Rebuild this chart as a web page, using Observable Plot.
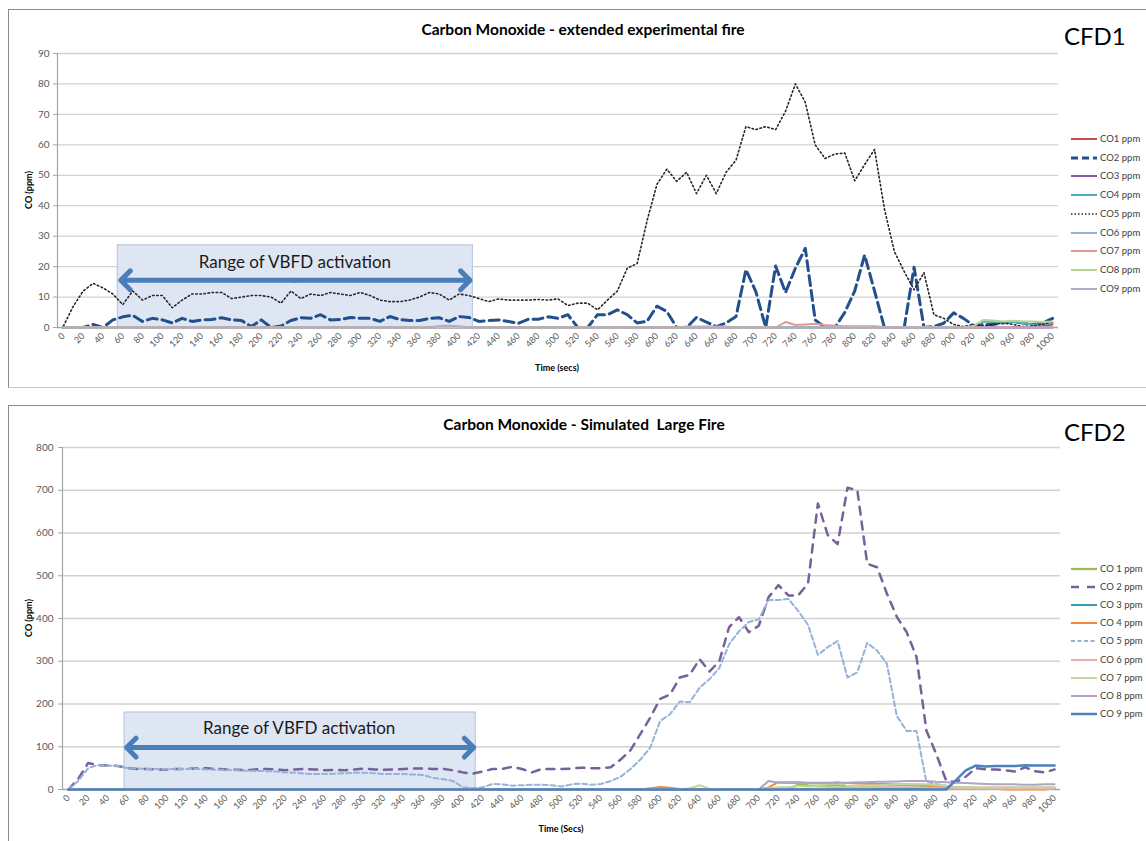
<!DOCTYPE html>
<html><head><meta charset="utf-8">
<script src="https://cdn.jsdelivr.net/npm/d3@7"></script>
<script src="https://cdn.jsdelivr.net/npm/@observablehq/plot@0.6"></script>
<style>
body{margin:0;background:#fff;}
#wrap{position:relative;width:1146px;height:841px;overflow:hidden;font-family:Lato,"Open Sans",sans-serif;background:#fff;}
.frame{position:absolute;border-top:1px solid #8a8a8a;border-left:1px solid #8a8a8a;}
.title{position:absolute;font-weight:bold;font-size:15.5px;color:#000;transform:translate(-50%,-50%);white-space:nowrap;line-height:1;}
.cfd{position:absolute;font-size:24px;color:#000;line-height:1;transform:translateY(-50%);}
.ytitle{position:absolute;font-weight:bold;font-size:9px;color:#000;transform:translate(-50%,-50%) rotate(-90deg);white-space:nowrap;line-height:1;}
.xtitle{position:absolute;font-weight:bold;font-size:9px;color:#000;transform:translate(-50%,-50%);white-space:nowrap;line-height:1;}
.leg{position:absolute;font-size:9.5px;color:#404040;white-space:nowrap;line-height:1;transform:translateY(-50%);}
.plot{position:absolute;left:0;}
</style></head>
<body>
<div id="wrap">
  <div class="frame" style="left:8px;top:9px;width:1200px;height:377px;border-bottom:1px solid #c8c8c8;"></div>
  <div class="frame" style="left:8px;top:405px;width:1200px;height:500px;"></div>
  <div id="p1" class="plot" style="top:0px"></div>
  <div id="p2" class="plot" style="top:405px"></div>
</div>
<script>
// ---------- categories / ticks ----------
const time = d3.range(0, 1001, 10);            // seconds, every 10 s
const xTickLabels = d3.range(0, 1001, 20);
const yTicksTop = [0,10,20,30,40,50,60,70,80,90];
const yTicksBottom = [0,100,200,300,400,500,600,700,800];

// ---------- CFD1 : extended experimental fire ----------
const topNames = ["CO1 ppm","CO2 ppm","CO3 ppm","CO4 ppm","CO5 ppm","CO6 ppm","CO7 ppm","CO8 ppm","CO9 ppm"];
const top_CO1 = [0,0,0,0,0,0,0,0,0,0, 0,0,0,0,0,0,0,0,0,0, 0,0,0,0,0,0,0,0,0,0, 0,0,0,0,0,0,0,0,0,0, 0,0,0,0,0,0,0,0,0,0,
  0,0,0,0,0,0,0,0,0,0, 0,0,0,0,0,0,0,0,0,0, 0,0,0,0,0,0,0,0,0,0, 0,0,0,0,0,0,0,0,0,0, 0,0,0,0,0,0,0,0,0,0.4, 1];
const top_CO2 = [
  0,0,0,1,0,2.5,3.5,4,2,3,
  2.5,1.5,3,2,2.5,2.6,3.2,2.5,2.3,0.3,
  2.5,0,0.5,2.3,3.2,3,4.2,2.5,2.6,3.3,
  3,3,2,3.6,2.6,2.3,2.3,3,3.2,2,
  3.6,3.3,2,2.3,2.5,2,1.4,2.7,2.7,3.5,
  3,4.2,0,0,4.2,4.2,5.8,4.2,1.5,2,
  7,5.3,0,0,3.3,1.8,0.3,1.5,3.6,19,
  11.8,0,20.2,11.5,19.5,26,2.5,0,0,5,
  12,23.8,12,0,0,0,19.8,0,0.3,1.4,
  4.8,3,0.6,1,1,1.5,2,1.5,1,1.5,
  3];
const top_CO3 = [0,0,0,0,0,0,0,0,0,0, 0,0,0,0,0,0,0,0,0,0, 0,0,0,0,0,0,0,0,0,0, 0,0,0,0,0,0,0,0,0,0, 0,0,0,0,0,0,0,0,0,0,
  0,0,0,0,0,0,0,0,0,0, 0,0,0,0,0,0,0,0,0,0, 0,0,0,0,0,0,0,0,0,0, 0,0,0,0,0,0,0,0,0,0, 0,0,0,0,0,0,0,0,0,0, 0];
const top_CO4 = [0,0,0,0,0,0,0,0,0,0, 0,0,0,0,0,0,0,0,0,0, 0,0,0,0,0,0,0,0,0,0, 0,0,0,0,0,0,0,0,0,0, 0,0,0,0,0,0,0,0,0,0,
  0,0,0,0,0,0,0,0,0,0, 0,0,0,0,0,0,0,0,0,0, 0,0,0,0,0,0,0,0,0,0, 0,0,0,0,0,0,0,0,0,0, 0,0,0.3,2,1.8,1.5,1.8,1.5,1,1, 1.5];
const top_CO5 = [
  0.5,7,12,14.5,13,11,7.5,12,9,10.5,
  10.5,6.5,9,11,11,11.5,11.5,9.5,10,10.5,
  10.5,10,8,12,9.5,11,10.5,11.5,11,10.5,
  11.5,10.5,9,8.5,8.5,9,10,11.5,11,9,
  11,10.5,9.5,8.5,9.4,9,9,9,9.2,9,
  9.4,7.2,8,8,5.8,9,12,19.5,21,35,
  47,52,48,51,44,50,44,51,55,66,
  65,66,65,71,80,74,60,55.5,57,57.3,
  48.2,53.5,58.5,39,25,18.4,12.4,18,4.2,3,
  1,0.3,1,0.5,1,1.5,1,0.3,0.5,1,
  2];
const top_CO6 = [0,0,0,0,0,0,0,0,0,0, 0,0,0,0,0,0,0,0,0,0, 0,0,0,0,0,0,0,0,0,0, 0,0,0,0,0,0,0,0,0,0, 0,0,0,0,0,0,0,0,0,0,
  0,0,0,0,0,0,0,0,0,0, 0,0,0,0.3,0.3,0.3,0.3,0.3,0,0, 0,0,0,0,0,0,0,0,0,0, 0,0,0,0,0,0,0,0,0,0, 0,0,0,0,0,0,0,0,0,0, 0];
const top_CO7 = [0,0,0,0,0,0,0,0,0,0, 0,0,0,0,0,0,0,0,0,0, 0,0,0,0,0,0,0,0,0,0, 0,0,0,0,0,0,0,0,0,0, 0,0,0,0,0,0,0,0,0,0,
  0,0,0,0,0,0,0,0,0,0, 0,0,0,0,0,0,0,0,0,0, 0,0,0,1.8,0.8,1,1.2,0.8,0.6,0.4, 0.4,0.4,0.4,0.2,0.1,0.2,0.2,0.2,0.2,0.2, 0.1,0,0,0,0,0,0,0,0,0, 0];
const top_CO8 = [0,0,0,0,0,0,0,0,0,0, 0,0,0,0,0,0,0,0,0,0, 0,0,0,0,0,0,0,0,0,0, 0,0,0,0,0,0,0,0,0,0, 0,0,0,0,0,0,0,0,0,0,
  0,0,0,0,0,0,0,0,0,0, 0,0,0,0,0,0,0,0,0,0, 0,0,0,0,0,0,0,0,0,0, 0,0,0,0,0,0,0,0,0,0, 0,0,0.5,2.5,2.3,2,2.2,2,2,1.8, 2];
const top_CO9 = [0,0,0,0,0,0,0,0,0,0, 0,0,0,0,0,0,0,0,0,0, 0,0,0,0,0,0,0,0,0,0, 0,0,0,0,0,0,0,0,0.5,0.6, 0.4,0,0,0,0,0,0,0,0,0,
  0,0,0,0,0,0,0,0,0,0, 0,0,0,0,0,0,0,0,0,0, 0,0,0,0,0,0,0,0,0,0, 0,0,0,0,0,0,0,0,0,0, 0,0,0,0,0,0,0,0,0,0, 0];

// ---------- CFD2 : simulated large fire ----------
const botNames = ["CO 1 ppm","CO 2 ppm","CO 3 ppm","CO 4 ppm","CO 5 ppm","CO 6 ppm","CO 7 ppm","CO 8 ppm","CO 9 ppm"];
const bot_CO1 = [0,0,0,0,0,0,0,0,0,0, 0,0,0,0,0,0,0,0,0,0, 0,0,0,0,0,0,0,0,0,0, 0,0,0,0,0,0,0,0,0,0, 0,0,0,0,0,0,0,0,0,0,
  0,0,0,0,0,0,0,0,0,0, 0,0,0,0,0,0,0,0,0,0, 0,0,0,0,12,10,9,9,10,8, 8,9,9,10,10,10,9,8,7,6, 5,5,4,4,4,4,4,4,4,4, 4];
const bot_CO2 = [
  0,25,62,57,56,55,50,48,48,47,
  47,48,48,49,50,48,47,46,45,47,
  48,47,45,47,48,47,45,46,45,47,
  49,47,46,47,48,49,49,48,48,45,
  40,37,42,48,48,53,48,40,48,48,
  48,49,51,50,50,52,70,92,130,168,
  212,222,262,268,305,276,300,380,403,368,
  383,450,478,454,454,482,669,595,574,706,
  700,528,520,458,404,368,310,138,83,21,
  17,30,50,47,47,45,42,52,43,40,
  47];
const bot_CO3 = [0,0,0,0,0,0,0,0,0,0, 0,0,0,0,0,0,0,0,0,0, 0,0,0,0,0,0,0,0,0,0, 0,0,0,0,0,0,0,0,0,0, 0,0,0,0,0,0,0,0,0,0,
  0,0,0,0,0,0,0,0,0,0, 0,0,0,0,0,0,0,0,0,0, 0,0,0,0,1,1,2,2,2,2, 2,2,2,2,2,2,2,2,1,1, 1,1,1,1,1,1,1,1,1,1, 1];
const bot_CO4 = [0,0,0,0,0,0,0,0,0,0, 0,0,0,0,0,0,0,0,0,0, 0,0,0,0,0,0,0,0,0,0, 0,0,0,0,0,0,0,0,0,0, 0,0,0,0,0,0,0,0,0,0,
  0,0,0,0,0,0,0,0,0,3, 6,4,1,0,0,0,0,0,0,0, 0,5,17,17,17,16,16,16,16,15, 14,14,13,13,12,12,11,10,7,5, 4,3,3,3,2,0,0,0,0,0, 3];
const bot_CO5 = [
  0,20,50,57,56,55,50,49,48,48,
  48,48,48,48,47,46,46,45,44,43,
  43,42,40,39,37,36,36,37,38,39,
  39,38,36,36,36,35,34,27,24,20,
  5,3,5,13,12,9,10,11,11,10,
  7,12,14,11,13,20,30,48,70,98,
  160,176,206,204,238,258,284,340,370,392,
  398,443,443,446,418,385,315,333,347,262,
  274,343,325,294,172,137,137,18,13,9,
  5,4,3,3,3,3,3,3,3,3,
  3];
const bot_CO6 = [0,0,0,0,0,0,0,0,0,0, 0,0,0,0,0,0,0,0,0,0, 0,0,0,0,0,0,0,0,0,0, 0,0,0,0,0,0,0,0,0,0, 0,0,0,0,0,0,0,0,0,0,
  0,0,0,0,0,0,0,0,0,0, 0,0,0,0,0,0,0,0,0,0, 0,0,0,0,0,0,2,3,4,4, 4,4,5,5,5,5,5,4,3,2, 2,2,2,2,2,2,2,2,2,2, 2];
const bot_CO7 = [0,0,0,0,0,0,0,0,0,0, 0,0,0,0,0,0,0,0,0,0, 0,0,0,0,0,0,0,0,0,0, 0,0,0,0,0,0,0,0,0,0, 0,0,0,0,0,0,0,0,0,0,
  0,0,0,0,0,0,0,0,0,0, 0,0,0,3,10,2,0,0,0,0, 0,3,5,5,8,7,8,12,18,8, 8,9,10,11,12,12,12,12,10,8, 6,5,5,5,5,5,5,5,5,5, 5];
const bot_CO8 = [0,0,0,0,0,0,0,0,0,0, 0,0,0,0,0,0,0,0,0,0, 0,0,0,0,0,0,0,0,0,0, 0,0,0,0,0,0,0,0,0,0, 0,0,0,0,0,0,0,0,0,0,
  0,0,0,0,0,0,0,0,0,0, 0,0,0,0,0,0,0,0,0,0, 0,20,16,15,15,15,15,15,16,16, 17,17,18,18,19,20,20,20,18,17, 16,15,14,13,12,12,12,11,11,12, 12];
const bot_CO9 = [0,0,0,0,0,0,0,0,0,0, 0,0,0,0,0,0,0,0,0,0, 0,0,0,0,0,0,0,0,0,0, 0,0,0,0,0,0,0,0,0,0, 0,0,0,0,0,0,0,0,0,0,
  0,0,0,0,0,0,0,0,0,0, 0,0,0,0,0,0,0,0,0,0, 0,0,0,0,0,0,0,0,0,0, 0,0,0,0,0,0,0,0,0,0, 22,45,56,54,55,55,55,57,56,56, 56];

// ---------- styles ----------
const topStyles = [
  {color:"#c0504d", w:2},
  {color:"#23508c", w:3, dash:"10,5", legDash:"7,4"},
  {color:"#7e60a2", w:2},
  {color:"#4bacc6", w:2},
  {color:"#262626", w:1.6, dash:"1.5,2.6", legDash:"1.5,2"},
  {color:"#95b3d7", w:2},
  {color:"#e29896", w:2},
  {color:"#b9d48f", w:2},
  {color:"#b7a8cc", w:2}
];
const botStyles = [
  {color:"#9bbb59", w:2.2},
  {color:"#77609c", w:2.5, dash:"8,7", legDash:"8,8"},
  {color:"#31a0c0", w:2},
  {color:"#f28a3c", w:2},
  {color:"#95b3d7", w:2, dash:"5,3", legDash:"4,2.5"},
  {color:"#e6b0ae", w:2},
  {color:"#c3d69b", w:2},
  {color:"#b3a2c7", w:2},
  {color:"#4f81bd", w:2.5}
];
const topValues = [top_CO1,top_CO2,top_CO3,top_CO4,top_CO5,top_CO6,top_CO7,top_CO8,top_CO9];
const botValues = [bot_CO1,bot_CO2,bot_CO3,bot_CO4,bot_CO5,bot_CO6,bot_CO7,bot_CO8,bot_CO9];

const annotation = "Range of VBFD activation";

function lineMarks(values, styles) {
  return values.map((vals, i) => {
    const rows = time.map((t, j) => ({t, v: vals[j]}));
    const s = styles[i];
    return Plot.lineY(rows, {x: "t", y: "v", stroke: s.color, strokeWidth: s.w,
      strokeDasharray: s.dash, strokeLinejoin: "round"});
  });
}

function panel({yTicks, yMax, values, styles, box, arrowY, textPos, margins, height}) {
  return Plot.plot({
    width: 1146, height,
    marginTop: margins[0], marginRight: margins[1], marginBottom: margins[2], marginLeft: margins[3],
    style: {fontFamily: "Lato, 'Open Sans', sans-serif", color: "#595959", background: "transparent", overflow: "visible"},
    x: {type: "linear", domain: [-6, 1006]},
    y: {domain: [0, yMax]},
    marks: [
      Plot.ruleY(yTicks.filter(d => d > 0), {stroke: "#d2d2d2", strokeWidth: 1.3}),
      Plot.rect([box], {x1: "x1", x2: "x2", y1: "y1", y2: "y2", fill: "#dae4f1", fillOpacity: 0.92, stroke: "#b9cadf", strokeWidth: 1.2}),
      Plot.ruleY([0], {stroke: "#a6a6a6", strokeWidth: 1.3}),
      Plot.ruleX([-6], {stroke: "#a6a6a6", strokeWidth: 1.2}),
      ...lineMarks(values, styles),
      Plot.arrow([{x1: textPos.x, x2: box.ax1, y: arrowY}, {x1: textPos.x, x2: box.ax2, y: arrowY}],
        {x1: "x1", x2: "x2", y1: "y", y2: "y", stroke: "#4a7ebb", strokeWidth: 5, headLength: 4, headAngle: 90}),
      Plot.text([textPos], {x: "x", y: "y", text: () => annotation, fontSize: 17, fill: "#1a1a1a",
        fontFamily: "Lato, sans-serif"}),
      Plot.axisY({ticks: yTicks, tickSize: 4, tickPadding: margins[4], fontSize: 10, label: null, stroke: "#a6a6a6", tickFormat: d => String(d)}),
      Plot.axisX({ticks: xTickLabels, tickRotate: -45, tickSize: 0, tickPadding: 7, fontSize: 9, label: null, tickFormat: d => String(d)})
    ]
  });
}

const p1 = panel({
  yTicks: yTicksTop, yMax: 90, values: topValues, styles: topStyles,
  box: {x1: 55, x2: 414, y1: 0, y2: 27, ax1: 58, ax2: 411},
  arrowY: 15.5, textPos: {x: 234, y: 21.3},
  margins: [53, 88, 59, 57, 4], height: 386
});
document.getElementById("p1").appendChild(p1);

const p2 = panel({
  yTicks: yTicksBottom, yMax: 800, values: botValues, styles: botStyles,
  box: {x1: 57, x2: 413, y1: 0, y2: 180, ax1: 59, ax2: 411},
  arrowY: 98, textPos: {x: 234, y: 143},
  margins: [42, 86, 52, 62, 5], height: 436
});
document.getElementById("p2").appendChild(p2);

// ---------- titles, labels, legends ----------
const wrap = document.getElementById("wrap");
function addDiv(cls, text, style) {
  const d = document.createElement("div");
  d.className = cls; d.textContent = text; d.setAttribute("style", style);
  wrap.appendChild(d); return d;
}
addDiv("title", "Carbon Monoxide - extended experimental fire", "left:583px;top:30px;");
addDiv("title", "Carbon Monoxide - Simulated  Large Fire", "left:584px;top:425px;white-space:pre;");
addDiv("cfd", "CFD1", "left:1064px;top:36px;");
addDiv("cfd", "CFD2", "left:1064px;top:432px;");
addDiv("ytitle", "CO (ppm)", "left:28px;top:190px;");
addDiv("ytitle", "CO (ppm)", "left:28px;top:618px;");
addDiv("xtitle", "Time (secs)", "left:557px;top:367px;");
addDiv("xtitle", "Time (Secs)", "left:561px;top:828px;");

function legend(names, styles, x0, y0, dy, lw, tx) {
  names.forEach((n, i) => {
    const s = styles[i];
    const y = y0 + i * dy;
    const ns = "http://www.w3.org/2000/svg";
    const svg = document.createElementNS(ns, "svg");
    svg.setAttribute("width", lw); svg.setAttribute("height", 10);
    svg.setAttribute("style", `position:absolute;left:${x0}px;top:${y - 5}px;`);
    const ln = document.createElementNS(ns, "line");
    ln.setAttribute("x1", 0); ln.setAttribute("x2", lw); ln.setAttribute("y1", 5); ln.setAttribute("y2", 5);
    ln.setAttribute("stroke", s.color); ln.setAttribute("stroke-width", s.w);
    if (s.legDash) ln.setAttribute("stroke-dasharray", s.legDash);
    svg.appendChild(ln); wrap.appendChild(svg);
    addDiv("leg", n, `left:${tx}px;top:${y}px;`);
  });
}
legend(topNames, topStyles, 1071, 139, 18.7, 26, 1100);
legend(botNames, botStyles, 1071, 569, 18.1, 26, 1100);
</script>
</body></html>
